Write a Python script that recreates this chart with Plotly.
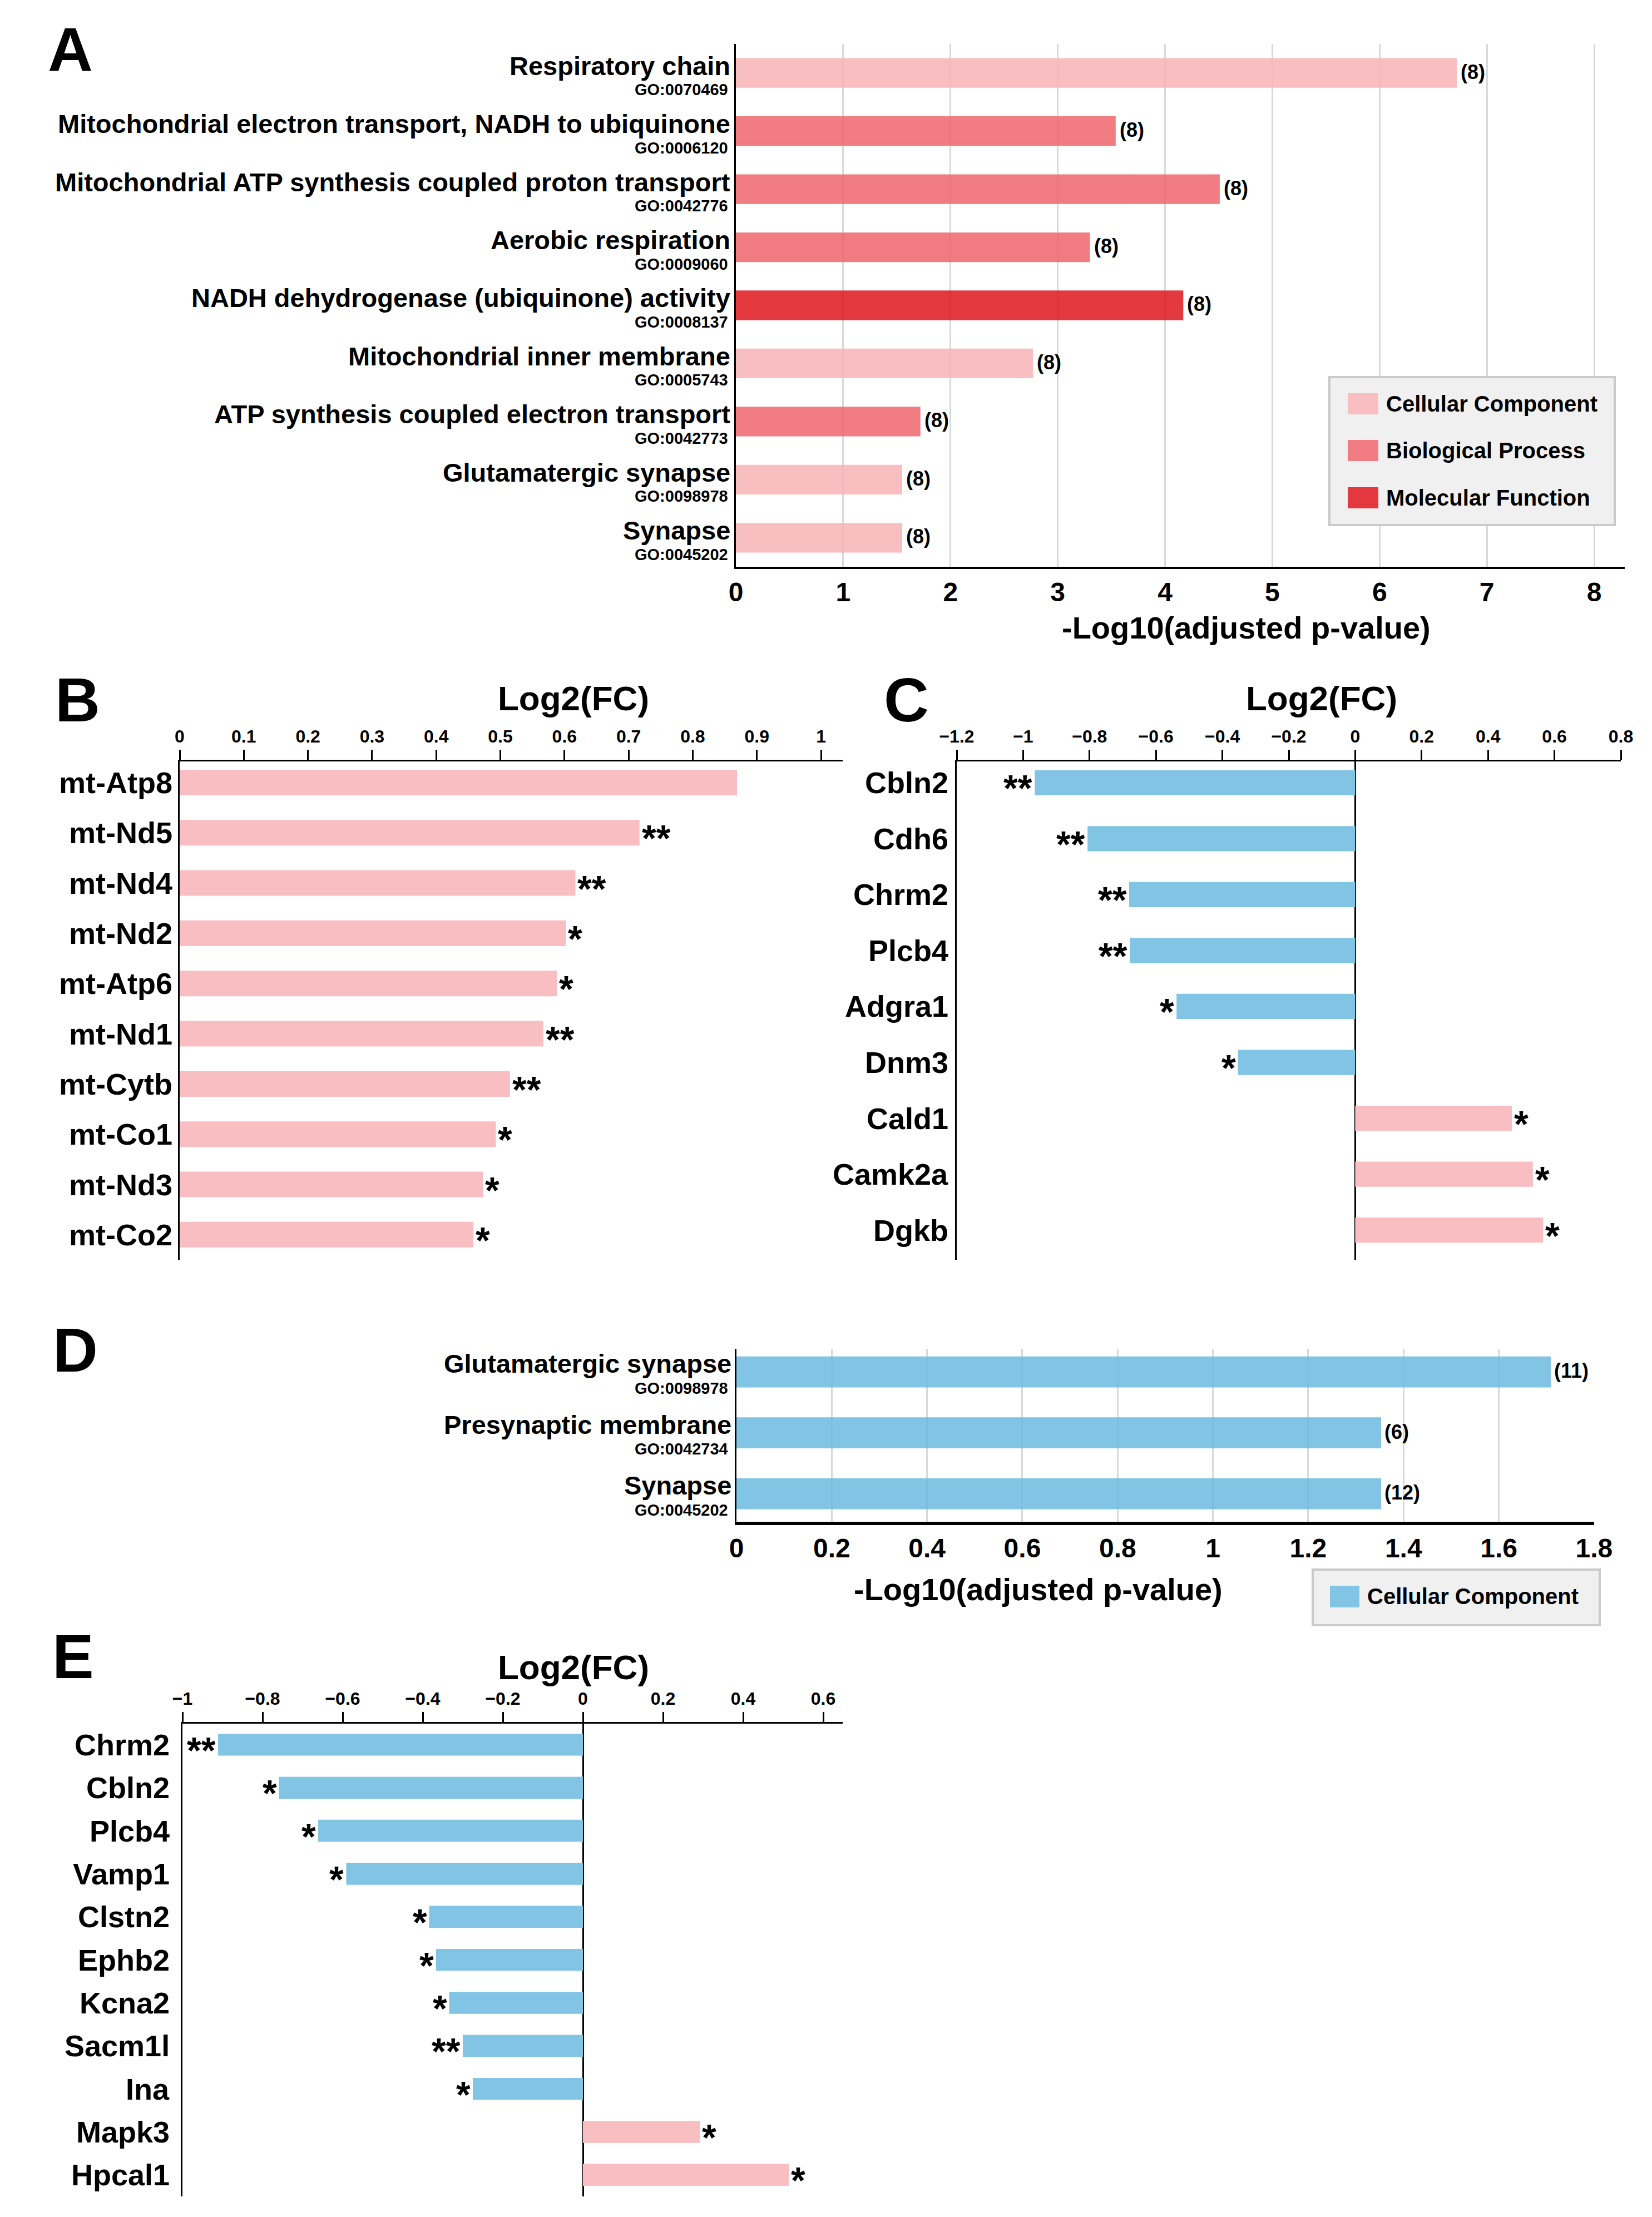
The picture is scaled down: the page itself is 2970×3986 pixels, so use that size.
import plotly.graph_objects as go

W, H = 2970, 3986
FONT = "Liberation Sans, Arial, Helvetica, sans-serif"

# ---------------- data ----------------
# Panel A
a_terms = ["Respiratory chain",
           "Mitochondrial electron transport, NADH to ubiquinone",
           "Mitochondrial ATP synthesis coupled proton transport",
           "Aerobic respiration",
           "NADH dehydrogenase (ubiquinone) activity",
           "Mitochondrial inner membrane",
           "ATP synthesis coupled electron transport",
           "Glutamatergic synapse",
           "Synapse"]
a_go_ids = ["GO:0070469", "GO:0006120", "GO:0042776", "GO:0009060", "GO:0008137",
            "GO:0005743", "GO:0042773", "GO:0098978", "GO:0045202"]
a_values = [6.72, 3.54, 4.51, 3.30, 4.17, 2.77, 1.72, 1.55, 1.55]
a_counts = [8, 8, 8, 8, 8, 8, 8, 8, 8]
a_types = ["Cellular Component", "Biological Process", "Biological Process",
           "Biological Process", "Molecular Function", "Cellular Component",
           "Biological Process", "Cellular Component", "Cellular Component"]
go_categories = ["Cellular Component", "Biological Process", "Molecular Function"]

# Panel B
b_genes = ["mt-Atp8", "mt-Nd5", "mt-Nd4", "mt-Nd2", "mt-Atp6", "mt-Nd1",
           "mt-Cytb", "mt-Co1", "mt-Nd3", "mt-Co2"]
b_fc = [0.869, 0.717, 0.617, 0.602, 0.588, 0.567, 0.515, 0.493, 0.473, 0.458]
b_sig = ["", "**", "**", "*", "*", "**", "**", "*", "*", "*"]

# Panel C
c_genes = ["Cbln2", "Cdh6", "Chrm2", "Plcb4", "Adgra1", "Dnm3", "Cald1", "Camk2a", "Dgkb"]
c_fc = [-0.965, -0.806, -0.681, -0.679, -0.538, -0.353, 0.472, 0.535, 0.566]
c_sig = ["**", "**", "**", "**", "*", "*", "*", "*", "*"]

# Panel D
d_terms = ["Glutamatergic synapse", "Presynaptic membrane", "Synapse"]
d_go_ids = ["GO:0098978", "GO:0042734", "GO:0045202"]
d_values = [1.709, 1.353, 1.353]
d_counts = [11, 6, 12]

# Panel E
e_genes = ["Chrm2", "Cbln2", "Plcb4", "Vamp1", "Clstn2", "Ephb2", "Kcna2",
           "Sacm1l", "Ina", "Mapk3", "Hpcal1"]
e_fc = [-0.911, -0.759, -0.661, -0.591, -0.384, -0.367, -0.334, -0.300, -0.275, 0.292, 0.514]
e_sig = ["**", "*", "*", "*", "*", "*", "*", "**", "*", "*", "*"]

# ---------------- styles ----------------
GO_FILL = {"Cellular Component": "#F8B3B6",
           "Biological Process": "#EE666C",
           "Molecular Function": "#DF151D"}
GO_SOLID = {"Cellular Component": "#F9BEC1",
            "Biological Process": "#F17D82",
            "Molecular Function": "#E4383F"}
BLUE_FILL = "#6CBADF"
BLUE = "#82C4E4"
PINK = "#F9BEC1"
GRID = "#D9D9D9"
STAR_SIZE = 66
STAR_YSHIFT = -10


def fx(px):
    return px / W


def fy(py):
    return 1 - py / H


def bold(size, color="black"):
    return dict(family=FONT, size=size, color=color, weight="bold")


fig = go.Figure()
annotations = []
shapes = []


def add_stars(genes, fcs, sigs, xref, yref):
    for g, v, s in zip(genes, fcs, sigs):
        if s:
            annotations.append(dict(text=s, x=v, xref=xref, y=g, yref=yref,
                                    xanchor="left" if v > 0 else "right", yanchor="middle",
                                    xshift=2 if v > 0 else -2, yshift=STAR_YSHIFT,
                                    showarrow=False, font=bold(STAR_SIZE)))


# ---------------- Panel A ----------------
for t in go_categories:
    ys = [term for term, ty in zip(a_terms, a_types) if ty == t]
    xs = [v for v, ty in zip(a_values, a_types) if ty == t]
    fig.add_trace(go.Bar(x=xs, y=ys, orientation="h", width=0.51,
                         marker=dict(color=GO_FILL[t], line=dict(width=0)),
                         opacity=0.85, xaxis="x", yaxis="y", showlegend=False,
                         hoverinfo="x+y"))
for term, gid, v, n in zip(a_terms, a_go_ids, a_values, a_counts):
    annotations.append(dict(text=term, x=fx(1315), xref="paper", y=term, yref="y",
                            xanchor="right", yanchor="middle", yshift=13,
                            showarrow=False, font=bold(47)))
    annotations.append(dict(text=gid, x=fx(1311), xref="paper", y=term, yref="y",
                            xanchor="right", yanchor="middle", yshift=-30,
                            showarrow=False, font=bold(29)))
    annotations.append(dict(text=f"({n})", x=v, xref="x", y=term, yref="y",
                            xanchor="left", yanchor="middle", xshift=5, yshift=2,
                            showarrow=False, font=bold(36)))

# ---------------- Panel B ----------------
fig.add_trace(go.Bar(x=b_fc, y=b_genes, orientation="h", width=0.51,
                     marker=dict(color=[PINK if v > 0 else BLUE for v in b_fc], line=dict(width=0)),
                     xaxis="x2", yaxis="y2", showlegend=False))
for g in b_genes:
    annotations.append(dict(text=g, x=fx(312), xref="paper", y=g, yref="y2",
                            xanchor="right", yanchor="middle",
                            showarrow=False, font=bold(54)))
add_stars(b_genes, b_fc, b_sig, "x2", "y2")

# ---------------- Panel C ----------------
fig.add_trace(go.Bar(x=c_fc, y=c_genes, orientation="h", width=0.45,
                     marker=dict(color=[PINK if v > 0 else BLUE for v in c_fc], line=dict(width=0)),
                     xaxis="x3", yaxis="y3", showlegend=False))
for g in c_genes:
    annotations.append(dict(text=g, x=fx(1707), xref="paper", y=g, yref="y3",
                            xanchor="right", yanchor="middle",
                            showarrow=False, font=bold(54)))
add_stars(c_genes, c_fc, c_sig, "x3", "y3")

# ---------------- Panel D ----------------
fig.add_trace(go.Bar(x=d_values, y=d_terms, orientation="h", width=0.51,
                     marker=dict(color=BLUE_FILL, line=dict(width=0)), opacity=0.85,
                     xaxis="x4", yaxis="y4", showlegend=False))
for term, gid, v, n in zip(d_terms, d_go_ids, d_values, d_counts):
    annotations.append(dict(text=term, x=fx(1317), xref="paper", y=term, yref="y4",
                            xanchor="right", yanchor="middle", yshift=15,
                            showarrow=False, font=bold(47)))
    annotations.append(dict(text=gid, x=fx(1311), xref="paper", y=term, yref="y4",
                            xanchor="right", yanchor="middle", yshift=-29,
                            showarrow=False, font=bold(29)))
    annotations.append(dict(text=f"({n})", x=v, xref="x4", y=term, yref="y4",
                            xanchor="left", yanchor="middle", xshift=4, yshift=2,
                            showarrow=False, font=bold(36)))

# ---------------- Panel E ----------------
fig.add_trace(go.Bar(x=e_fc, y=e_genes, orientation="h", width=0.51,
                     marker=dict(color=[PINK if v > 0 else BLUE for v in e_fc], line=dict(width=0)),
                     xaxis="x5", yaxis="y5", showlegend=False))
for g in e_genes:
    annotations.append(dict(text=g, x=fx(307), xref="paper", y=g, yref="y5",
                            xanchor="right", yanchor="middle",
                            showarrow=False, font=bold(54)))
add_stars(e_genes, e_fc, e_sig, "x5", "y5")

# ---------------- panel letters & titles ----------------
for letter, px, py in [("A", 84, 90), ("B", 97, 1258), ("C", 1587, 1258),
                       ("D", 93, 2427), ("E", 92, 2978)]:
    annotations.append(dict(text=letter, x=fx(px), y=fy(py), xref="paper", yref="paper",
                            xanchor="left", yanchor="middle", showarrow=False,
                            font=bold(112)))

for txt, px, py, sz in [("-Log10(adjusted p-value)", 2240, 1128, 56),
                        ("Log2(FC)", 1031, 1255, 62),
                        ("Log2(FC)", 2376, 1255, 62),
                        ("-Log10(adjusted p-value)", 1866, 2857, 56),
                        ("Log2(FC)", 1031, 2997, 62)]:
    annotations.append(dict(text=txt, x=fx(px), y=fy(py), xref="paper", yref="paper",
                            xanchor="center", yanchor="middle", showarrow=False,
                            font=bold(sz)))

# ---------------- legends (manual, large swatches) ----------------
shapes.append(dict(type="rect", xref="paper", yref="paper",
                   x0=fx(2390), x1=fx(2903), y0=fy(944), y1=fy(678),
                   fillcolor="#F0F0F0", line=dict(color="#CACACA", width=4), layer="above"))
for i, t in enumerate(go_categories):
    cy = [726, 810, 895][i]
    shapes.append(dict(type="rect", xref="paper", yref="paper",
                       x0=fx(2423), x1=fx(2478), y0=fy(cy + 19), y1=fy(cy - 19),
                       fillcolor=GO_SOLID[t], line=dict(width=0), layer="above"))
    annotations.append(dict(text=t, x=fx(2490), y=fy(cy), xref="paper", yref="paper",
                            xanchor="left", yanchor="middle", showarrow=False,
                            font=bold(40)))

shapes.append(dict(type="rect", xref="paper", yref="paper",
                   x0=fx(2360), x1=fx(2876), y0=fy(2922), y1=fy(2822),
                   fillcolor="#F0F0F0", line=dict(color="#CACACA", width=4), layer="above"))
shapes.append(dict(type="rect", xref="paper", yref="paper",
                   x0=fx(2391), x1=fx(2444), y0=fy(2890), y1=fy(2851),
                   fillcolor=BLUE, line=dict(width=0), layer="above"))
annotations.append(dict(text="Cellular Component", x=fx(2456), y=fy(2870),
                        xref="paper", yref="paper", xanchor="left", yanchor="middle",
                        showarrow=False, font=bold(40)))

# ---------------- axes ----------------
common_cat = dict(type="category", showticklabels=False, ticks="", showgrid=False,
                  showline=True, linecolor="black", linewidth=3, zeroline=False,
                  automargin=False)

layout = dict(
    width=W, height=H, autosize=False,
    margin=dict(l=0, r=0, t=0, b=0, pad=0, autoexpand=False),
    paper_bgcolor="white", plot_bgcolor="rgba(0,0,0,0)",
    font=dict(family=FONT, color="black"),
    barmode="overlay", showlegend=False,
    annotations=annotations, shapes=shapes,
    # A
    xaxis=dict(domain=[fx(1323), fx(2921)], range=[0, 8.285], anchor="y",
               tick0=0, dtick=1, showgrid=True, gridcolor=GRID, gridwidth=3,
               showline=True, linecolor="black", linewidth=4, ticks="",
               zeroline=False, tickfont=bold(48), automargin=False),
    yaxis=dict(domain=[fy(1019), fy(79)], range=[8.5, -0.5], anchor="x",
               categoryorder="array", categoryarray=a_terms, **common_cat),
    # B
    xaxis2=dict(domain=[fx(323), fx(1515)], range=[0, 1.0338], anchor="y2", side="top",
                tick0=0, dtick=0.1, showgrid=False, showline=True, linecolor="black",
                linewidth=3, ticks="outside", ticklen=18, tickwidth=3, tickcolor="black",
                zeroline=False, tickfont=bold(32), automargin=False),
    yaxis2=dict(domain=[fy(2265), fy(1369)], range=[9.5, -0.42], anchor="x2",
                categoryorder="array", categoryarray=b_genes, **common_cat),
    # C
    xaxis3=dict(domain=[fx(1720), fx(2914)], range=[-1.2, 0.8], anchor="y3", side="top",
                tick0=0, dtick=0.2, showgrid=False, showline=True, linecolor="black",
                linewidth=3, ticks="outside", ticklen=18, tickwidth=3, tickcolor="black",
                zeroline=True, zerolinecolor="black", zerolinewidth=3,
                tickfont=bold(32), automargin=False),
    yaxis3=dict(domain=[fy(2265), fy(1369)], range=[8.53, -0.38], anchor="x3",
                categoryorder="array", categoryarray=c_genes, **common_cat),
    # D
    xaxis4=dict(domain=[fx(1324), fx(2866)], range=[0, 1.8001], anchor="y4",
                tick0=0, dtick=0.2, showgrid=True, gridcolor=GRID, gridwidth=3,
                showline=True, linecolor="black", linewidth=6, ticks="",
                zeroline=False, tickfont=bold(48), automargin=False),
    yaxis4=dict(domain=[fy(2736), fy(2425)], range=[2.46, -0.38], anchor="x4",
                categoryorder="array", categoryarray=d_terms, **common_cat),
    # E
    xaxis5=dict(domain=[fx(328), fx(1515)], range=[-1, 0.6486], anchor="y5", side="top",
                tick0=0, dtick=0.2, showgrid=False, showline=True, linecolor="black",
                linewidth=3, ticks="outside", ticklen=18, tickwidth=3, tickcolor="black",
                zeroline=True, zerolinecolor="black", zerolinewidth=3,
                tickfont=bold(32), automargin=False),
    yaxis5=dict(domain=[fy(3949), fy(3099)], range=[10.5, -0.49], anchor="x5",
                categoryorder="array", categoryarray=e_genes, **common_cat),
)
fig.update_layout(**layout)

fig.write_html("out.html", config={"displayModeBar": False},
               post_script="document.body.style.margin='0';document.body.style.overflow='hidden';")
